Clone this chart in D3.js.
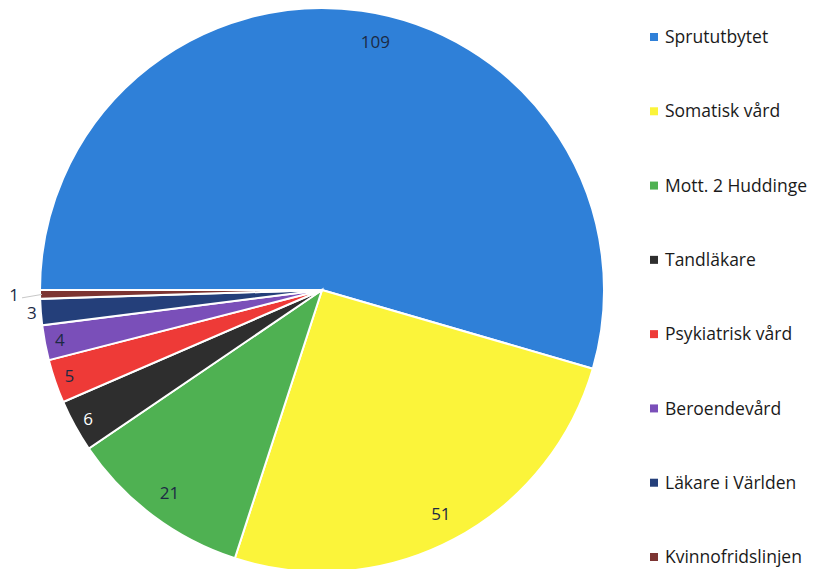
<!DOCTYPE html>
<html>
<head>
<meta charset="utf-8">
<title>Pie</title>
<script src="https://d3js.org/d3.v7.min.js"></script>
<style>
  body { margin: 0; background: #fff; }
  text { font-family: "Open Sans", Lato, sans-serif; }
</style>
</head>
<body>
<div id="chart"></div>
<script>
var categories = ["Sprututbytet", "Somatisk vård", "Mott. 2 Huddinge", "Tandläkare",
                  "Psykiatrisk vård", "Beroendevård", "Läkare i Världen", "Kvinnofridslinjen"];
var values = [109, 51, 21, 6, 5, 4, 3, 1];
var colors = ["#2f80d8", "#fbf43a", "#4fb152", "#2e2e2e", "#ee3a37", "#7a4fb9", "#243f7a", "#7c3432"];

var width = 824, height = 569;
var cx = 322, cy = 290, radius = 282;

var svg = d3.select("#chart")
  .append("svg")
    .attr("width", width)
    .attr("height", height);

var g = svg.append("g")
    .attr("transform", "translate(" + cx + "," + cy + ")");

var pie = d3.pie()
    .sort(null)
    .startAngle(-Math.PI / 2)
    .endAngle(3 * Math.PI / 2)
    .value(function(d) { return d; });

var arc = d3.arc().innerRadius(0).outerRadius(radius);

var arcs = pie(values);

g.selectAll("path.slice")
  .data(arcs)
  .enter()
  .append("path")
    .attr("class", "slice")
    .attr("d", arc)
    .attr("fill", function(d, i) { return colors[i]; })
    .attr("stroke", "#fff")
    .attr("stroke-width", 2);

// labels: inside near the edge, small ones outside
function labelRadius(d) {
  if (d.value <= 1) return 308;
  if (d.value <= 3) return 291;
  if (d.value <= 6) return 267;
  return 254;
}
function labelAngle(d) {
  var a = (d.startAngle + d.endAngle) / 2;
  // the big slice label sits a bit further round, as Excel placed it
  if (d.index === 0) a += 0.07;
  return a;
}
function labelPos(d) {
  var a = labelAngle(d);
  var r = labelRadius(d);
  return [r * Math.sin(a), -r * Math.cos(a)];
}

// leader line for the tiny slice
arcs.filter(function(d) { return d.value <= 1; }).forEach(function(d) {
  var a = (d.startAngle + d.endAngle) / 2;
  var p = labelPos(d);
  g.append("line")
    .attr("x1", p[0] + 8).attr("y1", p[1] + 3)
    .attr("x2", (radius - 2) * Math.sin(a)).attr("y2", -(radius - 2) * Math.cos(a))
    .attr("stroke", "#c8c8c8")
    .attr("stroke-width", 1);
});

g.selectAll("text.val")
  .data(arcs)
  .enter()
  .append("text")
    .attr("class", "val")
    .attr("x", function(d) { return labelPos(d)[0]; })
    .attr("y", function(d) { return labelPos(d)[1]; })
    .attr("dy", "0.35em")
    .attr("text-anchor", "middle")
    .attr("font-size", 17)
    .attr("fill", function(d, i) { return i === 3 ? "#fff" : "#1c2a44"; })
    .text(function(d) { return d.value; });

// legend
var legendY = d3.scalePoint()
    .domain(categories)
    .range([37, 557]);

var legend = svg.selectAll("g.legend")
  .data(categories)
  .enter()
  .append("g")
    .attr("class", "legend")
    .attr("transform", function(d) { return "translate(650," + legendY(d) + ")"; });

legend.append("rect")
    .attr("x", 0).attr("y", -4)
    .attr("width", 8).attr("height", 8)
    .attr("fill", function(d, i) { return colors[i]; });

legend.append("text")
    .attr("x", 15)
    .attr("dy", "0.35em")
    .attr("font-size", 17.5)
    .attr("fill", "#1a1a1a")
    .text(function(d) { return d; });
</script>
</body>
</html>
